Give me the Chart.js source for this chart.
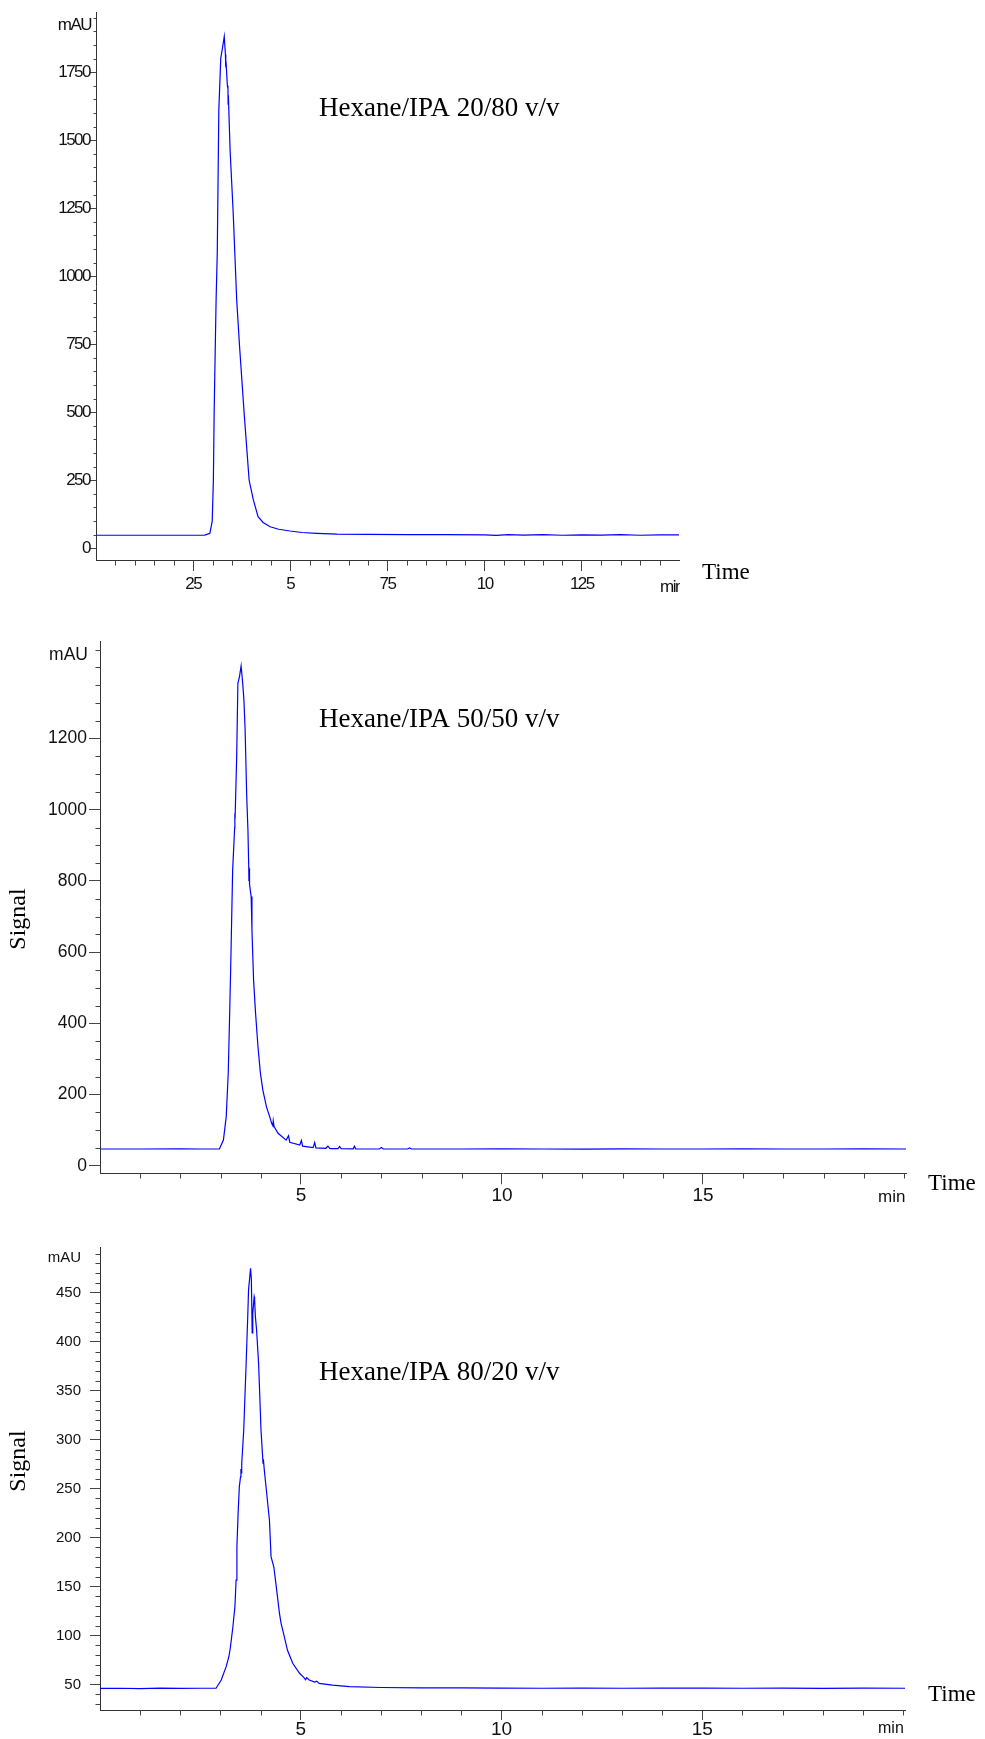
<!DOCTYPE html>
<html>
<head>
<meta charset="utf-8">
<title>HPLC chromatograms</title>
<script src="https://cdn.jsdelivr.net/npm/chart.js@4.4.1/dist/chart.umd.min.js"></script>
<style>
  html, body { margin: 0; padding: 0; background: #fff; }
  body { position: relative; width: 985px; height: 1739px; overflow: hidden; }
  canvas { position: absolute; left: 0; }
</style>
</head>
<body>
<canvas id="c1" width="985" height="600" style="top:0"></canvas>
<canvas id="c2" width="985" height="620" style="top:600px"></canvas>
<canvas id="c3" width="985" height="519" style="top:1220px"></canvas>
<script>
// ---- data (time in min, signal in mAU) ----
const time1 = [0, 0.5, 1.0, 1.5, 2.0, 2.5, 2.8, 2.93, 2.99, 3.02, 3.04, 3.07, 3.09, 3.12, 3.16, 3.21, 3.26, 3.30,
  3.33, 3.337, 3.34, 3.345, 3.38, 3.395, 3.40, 3.405, 3.45, 3.53, 3.62, 3.69, 3.81, 3.94, 4.05, 4.17, 4.30, 4.48,
  4.70, 4.99, 5.30, 5.68, 6.20, 7.0, 8.0, 9.0, 10.0, 10.3, 10.6, 11.0, 11.5, 12.0, 12.5, 13.0, 13.5, 14.0, 14.5, 15.0];
const signal1 = [48, 48, 48, 48, 48, 48, 48.5, 55, 100, 250, 500, 750, 913, 1085, 1611, 1801, 1844, 1881,
  1815, 1795, 1768, 1790, 1700, 1690, 1632, 1665, 1464, 1232, 913, 750, 500, 250, 177, 116, 95, 79,
  70, 63.6, 58, 55, 52, 51, 50, 50, 49.5, 47.5, 50, 48.5, 50, 48, 49.5, 48.5, 50, 48, 49.5, 49];

const time2 = [0, 1, 2, 2.5, 2.97, 3.07, 3.14, 3.19, 3.22, 3.25, 3.27, 3.30, 3.35, 3.355, 3.36, 3.40, 3.43, 3.47,
  3.51, 3.55, 3.58, 3.61, 3.65, 3.68, 3.70, 3.705, 3.71, 3.72, 3.76, 3.78, 3.82, 3.87, 3.93, 3.99, 4.05, 4.14,
  4.22, 4.27, 4.30, 4.31, 4.33, 4.43, 4.63, 4.69, 4.72, 4.97, 5.01, 5.04, 5.30, 5.34, 5.37, 5.62, 5.67, 5.72,
  5.92, 5.96, 6.0, 6.30, 6.33, 6.36, 6.95, 7.0, 7.05, 7.65, 7.7, 7.75, 9, 10, 11, 12, 13, 14, 15, 16, 17, 18, 19, 20.05];
const signal2 = [47, 47, 47.5, 47, 47, 72, 138, 260, 400, 550, 662, 831, 950, 990, 975, 1149, 1355, 1374,
  1404, 1355, 1308, 1224, 1037, 943, 840, 800, 835, 790, 756, 662, 522, 428, 334, 260, 213, 166,
  138, 119, 112, 126, 110, 91, 72, 84, 66, 58, 71, 55, 51, 65, 50, 49, 55, 48,
  48, 54, 48, 47.5, 55, 47.5, 47, 51, 47, 47, 50, 47, 47, 47.5, 47, 46.5, 47.5, 47, 47, 47.5, 47, 47, 47.5, 47];

const time3 = [0, 0.5, 1.0, 1.5, 2.0, 2.5, 2.89, 3.02, 3.14, 3.21, 3.25, 3.31, 3.36, 3.39, 3.41, 3.44, 3.47, 3.50,
  3.51, 3.52, 3.53, 3.58, 3.64, 3.68, 3.70, 3.75, 3.77, 3.79, 3.80, 3.81, 3.84, 3.85, 3.87, 3.90, 3.95, 4.01,
  4.05, 4.06, 4.07, 4.09, 4.14, 4.22, 4.26, 4.33, 4.39, 4.47, 4.51, 4.59, 4.67, 4.80, 4.97, 5.08, 5.12, 5.15,
  5.21, 5.35, 5.40, 5.46, 5.79, 6.21, 7, 8, 9, 10, 11, 12, 13, 14, 15, 16, 17, 18, 19, 20.05];
const signal3 = [46, 46.2, 45.8, 46.3, 46, 46.2, 46.2, 54.6, 68, 78.4, 88.6, 109, 129.5, 156.7, 190.7, 224.8, 252, 262,
  270, 266, 276, 310, 378, 426, 453, 475, 464, 409, 412, 429, 446, 444, 426, 412, 378, 310,
  283, 276, 280, 270, 250, 218, 180.6, 170, 150, 122.7, 112.5, 99, 85, 71.7, 61.5, 57, 55, 57,
  54.6, 52.5, 53.5, 51.2, 49.5, 47.8, 47, 46.5, 46.5, 46.3, 46.2, 46.4, 46.2, 46.3, 46.3, 46.2, 46.3, 46.1, 46.3, 46.2];

// ---- axis ticks and labels ----
const yTicks1 = [0, 250, 500, 750, 1000, 1250, 1500, 1750];
const xTicks1 = [2.5, 5, 7.5, 10, 12.5];
const xTickText1 = ['25', '5', '75', '10', '125'];
const yTicks2 = [0, 200, 400, 600, 800, 1000, 1200];
const xTicks2 = [5, 10, 15];
const yTicks3 = [50, 100, 150, 200, 250, 300, 350, 400, 450];
const xTicks3 = [5, 10, 15];
const titles = ['Hexane/IPA 20/80 v/v', 'Hexane/IPA 50/50 v/v', 'Hexane/IPA 80/20 v/v'];

const SANS = '"Liberation Sans", Arial, sans-serif';
const SERIF = '"Liberation Serif", "Times New Roman", serif';

const decor = {
  id: 'decor',
  beforeDraw(chart, args, o) {
    chart.ctx.letterSpacing = o.tickSpacing || '0px';
  },
  afterDraw(chart, args, o) {
    const ctx = chart.ctx;
    const xs = chart.scales.x, ys = chart.scales.y;
    const a = chart.chartArea;
    ctx.save();
    // minor ticks
    ctx.strokeStyle = '#444';
    ctx.lineWidth = 1;
    ctx.beginPath();
    for (let i = Math.ceil(ys.min / o.yMinor); i * o.yMinor <= ys.max; i++) {
      const v = i * o.yMinor;
      if (o.yMajor.includes(v)) continue;
      const p = Math.round(ys.getPixelForValue(v)) + 0.5;
      ctx.moveTo(Math.round(a.left) + 0.5 - o.yMinorLen, p);
      ctx.lineTo(Math.round(a.left) + 0.5, p);
    }
    for (let i = 1; i * o.xMinor < xs.max; i++) {
      const v = i * o.xMinor;
      if (o.xMajor.includes(v)) continue;
      const p = Math.round(xs.getPixelForValue(v)) + 0.5;
      ctx.moveTo(p, Math.round(a.bottom) + 0.5);
      ctx.lineTo(p, Math.round(a.bottom) + 0.5 + o.xMinorLen);
    }
    ctx.stroke();

    ctx.fillStyle = '#111';
    // unit label on the y axis
    ctx.letterSpacing = o.tickSpacing || '0px';
    ctx.font = o.unitFont;
    ctx.textAlign = 'right';
    ctx.textBaseline = 'middle';
    ctx.fillText('mAU', o.unitPos[0], o.unitPos[1]);
    // "min" at the end of the time axis, clipped by the axis end
    ctx.save();
    ctx.beginPath();
    ctx.rect(0, 0, a.right + 1, chart.height);
    ctx.clip();
    ctx.font = o.minFont;
    ctx.textAlign = 'left';
    ctx.textBaseline = 'alphabetic';
    ctx.fillText('min', o.minPos[0], o.minPos[1]);
    ctx.restore();

    ctx.letterSpacing = '0px';
    ctx.fillStyle = '#000';
    ctx.textAlign = 'left';
    ctx.textBaseline = 'alphabetic';
    ctx.font = '27px ' + SERIF;
    ctx.fillText(o.title, o.titlePos[0], o.titlePos[1]);
    ctx.font = '23px ' + SERIF;
    ctx.fillText('Time', o.timePos[0], o.timePos[1]);
    if (o.signalPos) {
      ctx.font = '24px ' + SERIF;
      ctx.translate(o.signalPos[0], o.signalPos[1]);
      ctx.rotate(-Math.PI / 2);
      ctx.textAlign = 'center';
      ctx.textBaseline = 'middle';
      ctx.fillText('Signal', 0, 0);
    }
    ctx.restore();
  }
};

function makeChart(id, p) {
  const pts = p.time.map((t, i) => ({ x: t, y: p.signal[i] }));
  return new Chart(document.getElementById(id), {
    type: 'line',
    data: {
      datasets: [{
        data: pts,
        borderColor: '#0000ff',
        borderWidth: 1.2,
        pointRadius: 0,
        tension: 0,
        fill: false
      }]
    },
    options: {
      responsive: false,
      animation: false,
      events: [],
      layout: { padding: { top: p.top, right: p.right, left: 0, bottom: 0 } },
      plugins: {
        legend: { display: false },
        tooltip: { enabled: false },
        decor: p.decor
      },
      scales: {
        x: {
          type: 'linear',
          min: 0,
          max: p.xMax,
          afterFit: s => { s.height = p.xHeight; },
          afterBuildTicks: s => { s.ticks = p.xTicks.map(v => ({ value: v })); },
          grid: { drawOnChartArea: false, tickLength: p.xTickLen, tickColor: '#444' },
          border: { color: '#333', width: 1 },
          ticks: {
            autoSkip: false,
            maxRotation: 0,
            padding: p.xPad,
            color: '#111',
            font: { family: SANS, size: p.xFont, lineHeight: 1 },
            callback: (v) => {
              const i = p.xTicks.indexOf(v);
              return p.xText ? p.xText[i] : String(v);
            }
          }
        },
        y: {
          type: 'linear',
          min: p.yMin,
          max: p.yMax,
          afterFit: s => { s.width = p.left; },
          afterBuildTicks: s => { s.ticks = p.yTicks.map(v => ({ value: v })); },
          grid: { drawOnChartArea: false, tickLength: p.yTickLen, tickColor: '#444' },
          border: { color: '#333', width: 1 },
          ticks: {
            autoSkip: false,
            padding: p.yPad,
            color: '#111',
            font: { family: SANS, size: p.yFont, lineHeight: 1 },
            callback: v => String(v)
          }
        }
      }
    },
    plugins: [decor]
  });
}

makeChart('c1', {
  time: time1, signal: signal1,
  top: 12, right: 306, left: 96, xHeight: 40,
  xMax: 15, yMin: -43, yMax: 1971,
  xTicks: xTicks1, xText: xTickText1, yTicks: yTicks1,
  xTickLen: 11, yTickLen: 6, xPad: 5, yPad: 0, xFont: 17, yFont: 17,
  decor: {
    tickSpacing: '-1.5px',
    yMinor: 50, yMinorLen: 3, yMajor: yTicks1,
    xMinor: 0.5, xMinorLen: 5, xMajor: xTicks1,
    unitFont: '17px ' + SANS, unitPos: [91, 25],
    minFont: '17px ' + SANS, minPos: [660, 592],
    title: titles[0], titlePos: [319, 116],
    timePos: [702, 579]
  }
});

makeChart('c2', {
  time: time2, signal: signal2,
  top: 41.7, right: 79, left: 100, xHeight: 46.7,
  xMax: 20.05, yMin: -21.3, yMax: 1472,
  xTicks: xTicks2, yTicks: yTicks2,
  xTickLen: 11, yTickLen: 11, xPad: 2, yPad: 2, xFont: 19, yFont: 17.5,
  decor: {
    yMinor: 50, yMinorLen: 5, yMajor: yTicks2,
    xMinor: 1, xMinorLen: 5, xMajor: xTicks2,
    unitFont: '17.5px ' + SANS, unitPos: [88, 55],
    minFont: '17px ' + SANS, minPos: [878, 602],
    title: titles[1], titlePos: [319, 127],
    timePos: [928, 590],
    signalPos: [19, 319]
  }
});

makeChart('c3', {
  time: time3, signal: signal3,
  top: 27.3, right: 80, left: 100, xHeight: 29,
  xMax: 20.05, yMin: 24, yMax: 496.5,
  xTicks: xTicks3, yTicks: yTicks3,
  xTickLen: 10, yTickLen: 10, xPad: 0, yPad: 9, xFont: 19, yFont: 15,
  decor: {
    yMinor: 10, yMinorLen: 5, yMajor: yTicks3,
    xMinor: 1, xMinorLen: 5, xMajor: xTicks3,
    unitFont: '15px ' + SANS, unitPos: [81, 38],
    minFont: '16px ' + SANS, minPos: [878, 513],
    title: titles[2], titlePos: [319, 160],
    timePos: [928, 481],
    signalPos: [19, 241]
  }
});
</script>
</body>
</html>
